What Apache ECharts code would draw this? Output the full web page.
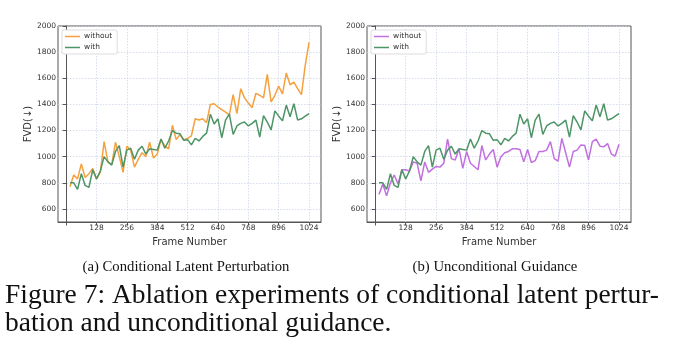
<!DOCTYPE html>
<html>
<head>
<meta charset="utf-8">
<script src="https://cdn.jsdelivr.net/npm/echarts@6/dist/echarts.min.js"></script>
<style>
html,body{margin:0;padding:0;background:#fff;}
#c{width:680px;height:348px;}
</style>
</head>
<body>
<div id="c"></div>
<script>
// Frame numbers (x values)
const frames = [16,32,48,64,80,96,112,128,144,160,176,192,208,224,240,256,
  272,288,304,320,336,352,368,384,400,416,432,448,464,480,496,512,
  528,544,560,576,592,608,624,640,656,672,688,704,720,736,752,768,
  784,800,816,832,848,864,880,896,912,928,944,960,976,992,1008,1024];

// (a) Conditional Latent Perturbation
const perturbWithout = [770,860,830,945,840,870,910,830,880,1115,960,940,1110,1000,880,1080,
  1050,920,980,1030,1000,1110,990,1020,1130,1080,1060,1240,1130,1170,1130,1140,
  1160,1290,1280,1290,1260,1400,1405,1380,1360,1340,1320,1475,1330,1520,1450,1410,
  1375,1485,1470,1450,1630,1420,1470,1540,1480,1640,1550,1570,1520,1475,1700,1875];
const perturbWith = [800,800,750,870,780,765,900,830,890,1000,960,935,1040,1085,920,1050,
  1065,980,1050,1080,1020,1060,1055,1050,1135,1065,1120,1200,1180,1175,1125,1130,
  1090,1140,1120,1155,1180,1325,1250,1290,1145,1280,1325,1170,1235,1255,1265,1235,
  1255,1280,1150,1315,1265,1205,1350,1310,1275,1395,1305,1405,1280,1290,1310,1330];

// (b) Unconditional Guidance
const guidanceWithout = [710,790,700,800,860,790,900,900,890,960,950,815,960,880,905,925,
  920,950,1135,985,975,1060,910,1040,950,925,900,1085,975,1020,1055,920,
  1000,1030,1040,1060,1060,1055,960,1055,955,970,1040,1040,1050,1115,985,965,
  1140,1030,920,1040,1050,1090,1085,975,1115,1135,1080,1075,1100,1020,1005,1095];
const guidanceWith = perturbWith;

const xTickLabels = [128,256,384,512,640,768,896,1024];
const xTicks = [0,128,256,384,512,640,768,896,1024];
const yTicks = [600,800,1000,1200,1400,1600,1800,2000];

const cOrange = '#F5A13E';
const cGreen = '#4E9467';
const cPurple = '#C26FE0';

const pair = (xs, ys) => xs.map((x, i) => [x, ys[i]]);

const font = 'DejaVu Sans';
const plain = (v) => String(v);
const mkX = (gi) => ({
  type: 'value', gridIndex: gi, min: -34.4, max: 1074.4,
  name: 'Frame Number', nameLocation: 'middle', nameGap: 15,
  nameTextStyle: {fontFamily: font, fontSize: 10, color: '#333'},
  axisLine: {show: true, lineStyle: {color: '#555', width: 1}},
  axisTick: {show: true, length: 3.5, lineStyle: {color: '#555'}, customValues: xTicks},
  axisLabel: {fontFamily: font, fontSize: 7.5, color: '#333', margin: 2, customValues: xTickLabels, formatter: plain},
  splitLine: {show: true, lineStyle: {color: '#cdd6e6', type: [1.5, 1.5], width: 0.8}}
});
const mkY = (gi) => ({
  type: 'value', gridIndex: gi, min: 500, max: 2000,
  name: 'FVD(↓)', nameLocation: 'middle', nameGap: 25,
  nameTextStyle: {fontFamily: font, fontSize: 10, color: '#333'},
  axisLine: {show: true, lineStyle: {color: '#555', width: 1}},
  axisTick: {show: true, length: 3.5, lineStyle: {color: '#555'}, customValues: yTicks},
  axisLabel: {fontFamily: font, fontSize: 7.5, color: '#333', margin: 2, customValues: yTicks, formatter: plain},
  splitLine: {show: true, lineStyle: {color: '#cdd6e6', type: [1.5, 1.5], width: 0.8}}
});
const mkLegend = (left, c1, c2) => ({
  orient: 'vertical', left: left, top: 30,
  icon: 'rect', itemWidth: 15, itemHeight: 1.5, itemGap: 2,
  padding: [2, 5, 2, 3],
  borderColor: '#ddd', borderWidth: 1, borderRadius: 2, backgroundColor: '#fff',
  textStyle: {fontFamily: font, fontSize: 7.5, color: '#333', lineHeight: 9, padding: [0, 0, 0, -1]},
  selectedMode: false,
  data: [
    {name: 'without', itemStyle: {color: c1}},
    {name: 'with', itemStyle: {color: c2}}
  ]
});
const mkSeries = (name, data, color, gi) => ({
  type: 'line', name: name, data: data, xAxisIndex: gi, yAxisIndex: gi,
  showSymbol: false, symbol: 'none', lineStyle: {color: color, width: 1.5}, itemStyle: {color: color},
  animation: false, z: name === 'with' ? 3 : 2
});

const chart = echarts.init(document.getElementById('c'), null, {renderer: 'canvas'});
chart.setOption({
  animation: false,
  backgroundColor: '#fff',
  grid: [
    {left: 58, top: 26, width: 263, height: 196, show: true, borderColor: '#555', borderWidth: 1, backgroundColor: 'transparent'},
    {left: 367, top: 26, width: 264, height: 196, show: true, borderColor: '#555', borderWidth: 1, backgroundColor: 'transparent'}
  ],
  xAxis: [mkX(0), mkX(1)],
  yAxis: [mkY(0), mkY(1)],
  legend: [mkLegend(62, cOrange, cGreen), mkLegend(371, cPurple, cGreen)],
  series: [
    mkSeries('without', pair(frames, perturbWithout), cOrange, 0),
    mkSeries('with', pair(frames, perturbWith), cGreen, 0),
    mkSeries('without', pair(frames, guidanceWithout), cPurple, 1),
    mkSeries('with', pair(frames, guidanceWith), cGreen, 1)
  ],
  graphic: [
    {type: 'text', x: 186, y: 267, style: {text: '(a) Conditional Latent Perturbation', font: '14.7px "Liberation Serif"', fill: '#111', align: 'center', verticalAlign: 'middle'}},
    {type: 'text', x: 495, y: 267, style: {text: '(b) Unconditional Guidance', font: '14.7px "Liberation Serif"', fill: '#111', align: 'center', verticalAlign: 'middle'}},
    {type: 'text', x: 5, y: 296, style: {text: 'Figure 7: Ablation experiments of conditional latent pertur-', font: '27.5px "Liberation Serif"', fill: '#111', align: 'left', verticalAlign: 'middle'}},
    {type: 'text', x: 5, y: 324, style: {text: 'bation and unconditional guidance.', font: '27.5px "Liberation Serif"', fill: '#111', align: 'left', verticalAlign: 'middle'}}
  ]
});
</script>
</body>
</html>
